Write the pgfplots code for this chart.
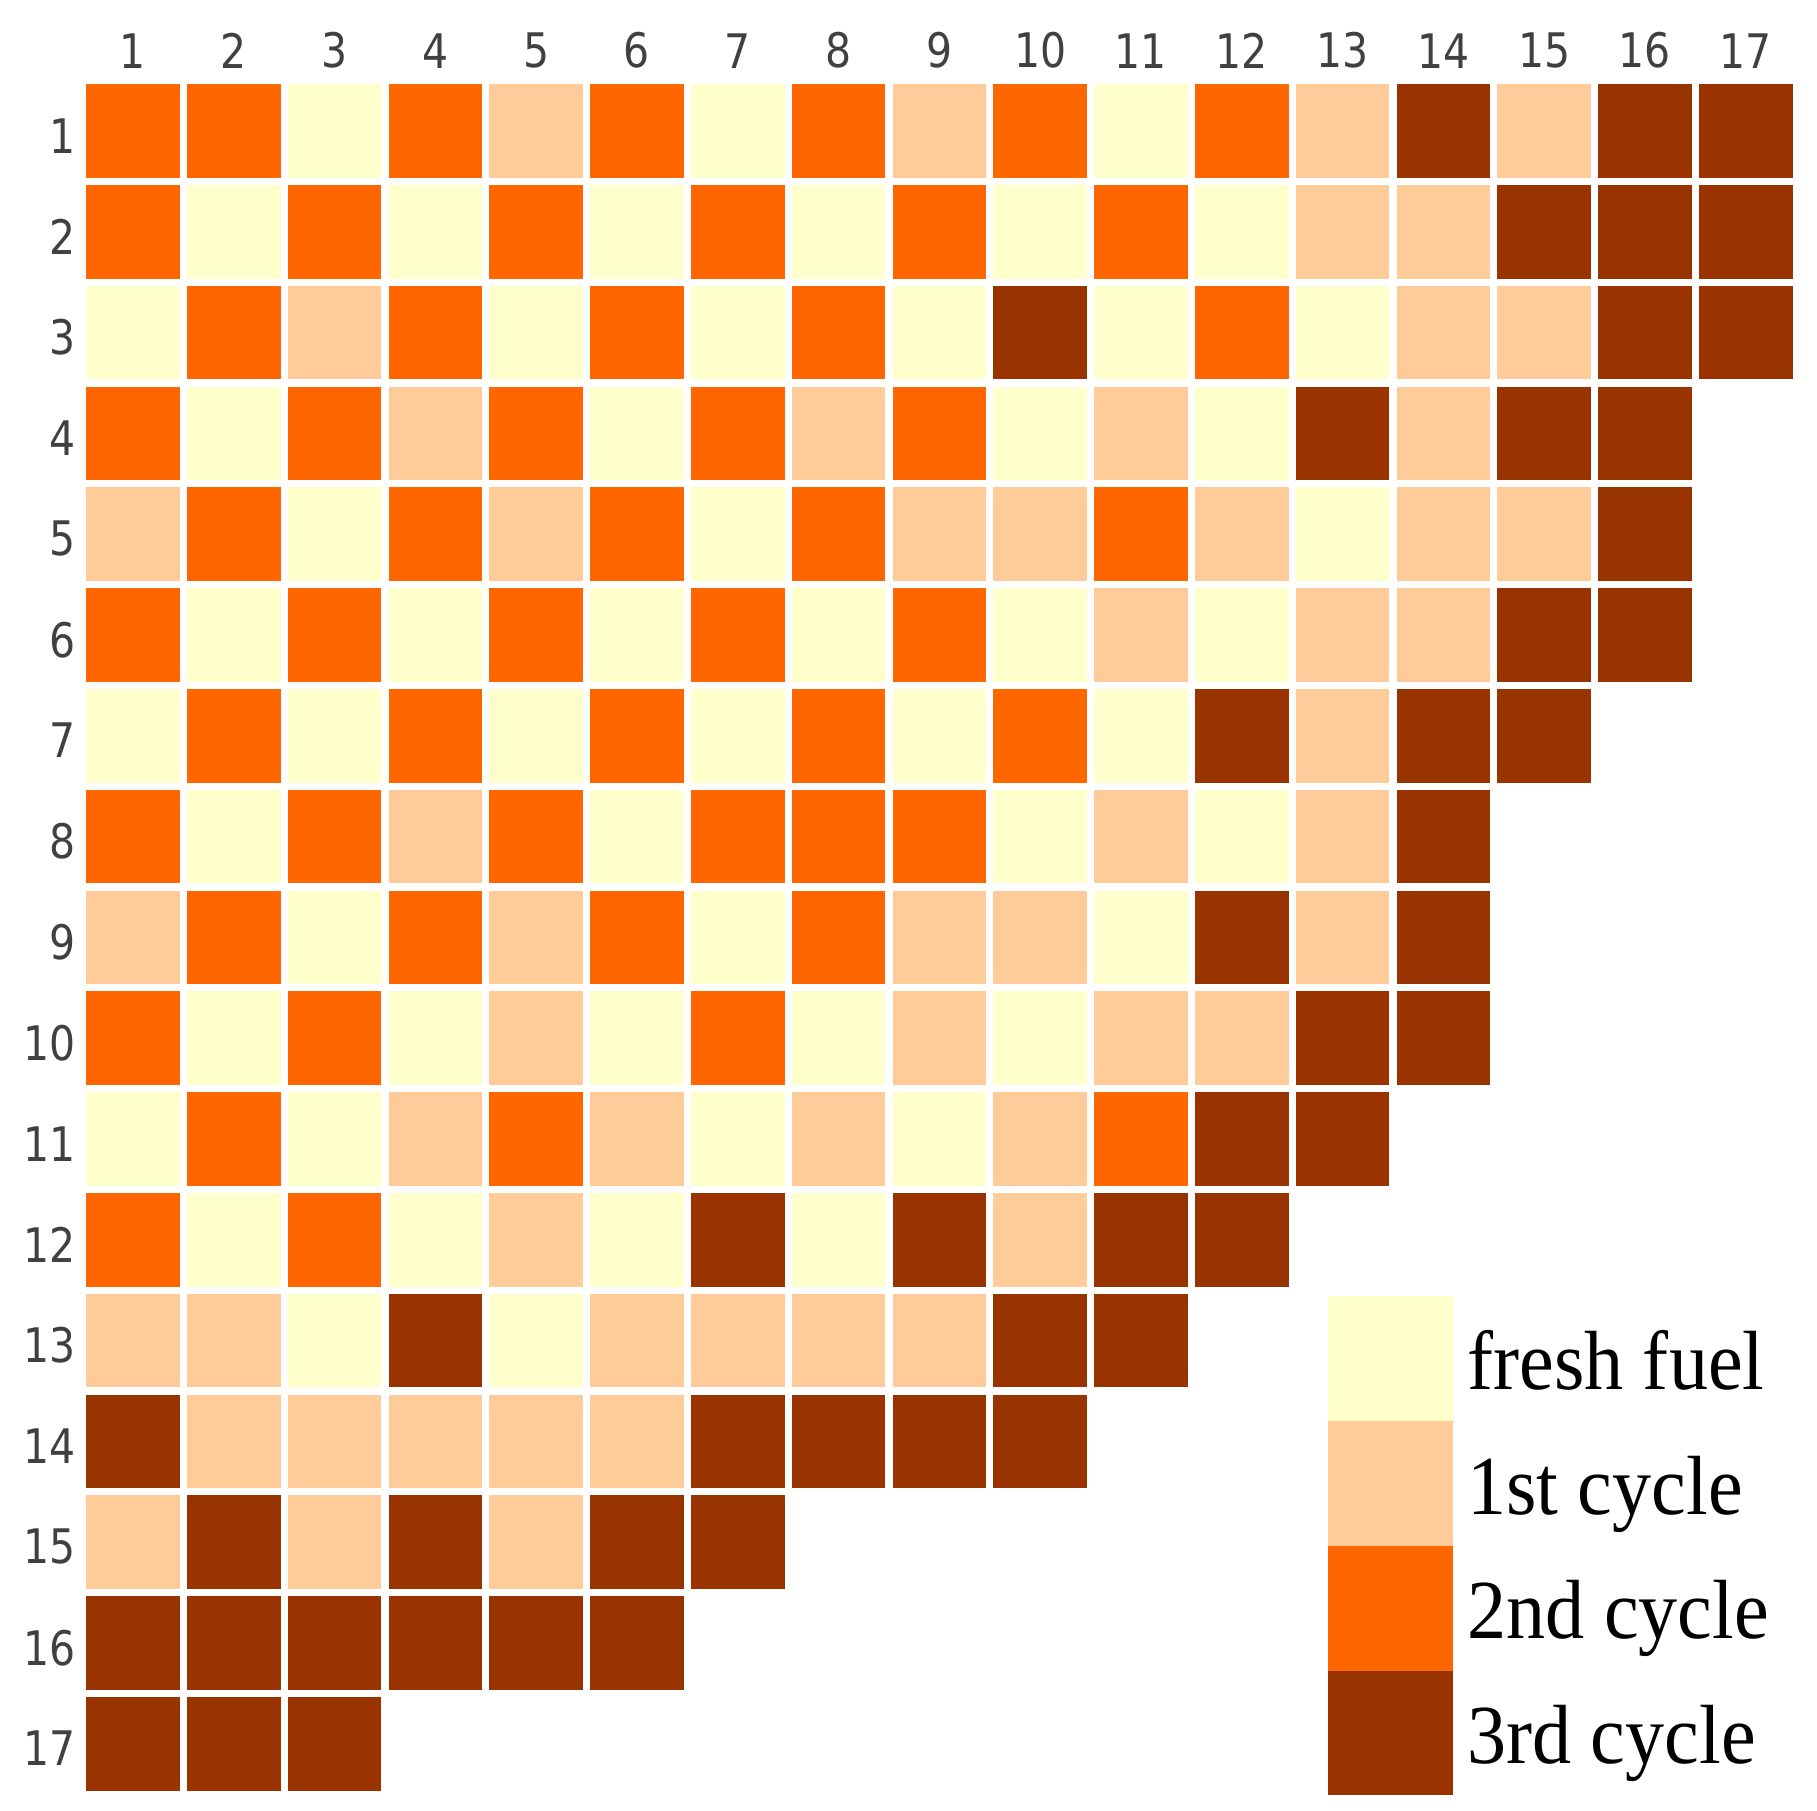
\documentclass[border=0pt]{standalone}
\usepackage{fontspec}
\usepackage{pgfplots}
\pgfplotsset{compat=1.18}
\newfontfamily\tickfont[FakeStretch=0.86]{DejaVu Sans}
\newfontfamily\legfont[FakeStretch=0.93]{Liberation Serif}
\definecolor{cF}{HTML}{FFFFCC}
\definecolor{cA}{HTML}{FFCC99}
\definecolor{cB}{HTML}{FF6600}
\definecolor{cC}{HTML}{993300}
\definecolor{tickc}{HTML}{404040}
\begin{document}
\begin{tikzpicture}
\useasboundingbox (0,0) rectangle (454.25pt,452.5pt);
\begin{axis}[
  at={(20.625pt,432.375pt)}, anchor=north west,
  scale only axis, width=428.4pt, height=428.4pt,
  xmin=0.5, xmax=17.5, ymin=0.5, ymax=17.5,
  y dir=reverse, clip=false,
  axis line style={draw=none}, tick style={draw=none}, major tick length=0pt,
  xtick={1,...,17}, ytick={1,...,17},
  xticklabel pos=upper,
  /pgf/number format/assume math mode=true,
  ticklabel style={font=\tickfont\fontsize{11.9}{12}\selectfont, text=tickc},
  xticklabel style={anchor=south, inner sep=0pt, yshift=2.9pt},
  yticklabel style={anchor=east, inner sep=0pt, xshift=-1.5pt, yshift=-1.2pt},
  legend cell align=left,
  legend style={at={(axis cs:12.853,12.56)}, anchor=north west, draw=none, fill=none,
    inner sep=0pt, outer sep=0pt, row sep=0pt, column sep=3.5pt,
    font=\legfont\fontsize{21}{21}\selectfont,
    nodes={inner sep=0pt, outer sep=0pt},
    cells={anchor=base west}},
  every axis plot/.append style={only marks, mark=square*, mark size=11.5pt, line width=0.4pt},
]
\addplot[color=cF,
  legend image code/.code={\fill[cF] (0pt,-7.7pt) rectangle (31pt,23.1pt);}]
table {
x y
3 1
7 1
11 1
2 2
4 2
6 2
8 2
10 2
12 2
1 3
5 3
7 3
9 3
11 3
13 3
2 4
6 4
10 4
12 4
3 5
7 5
13 5
2 6
4 6
6 6
8 6
10 6
12 6
1 7
3 7
5 7
7 7
9 7
11 7
2 8
6 8
10 8
12 8
3 9
7 9
11 9
2 10
4 10
6 10
8 10
10 10
1 11
3 11
7 11
9 11
2 12
4 12
6 12
8 12
3 13
5 13
};
\addlegendentry{fresh fuel}
\addplot[color=cA,
  legend image code/.code={\fill[cA] (0pt,-7.7pt) rectangle (31pt,23.1pt);}]
table {
x y
5 1
9 1
13 1
15 1
13 2
14 2
3 3
14 3
15 3
4 4
8 4
11 4
14 4
1 5
5 5
9 5
10 5
12 5
14 5
15 5
11 6
13 6
14 6
13 7
4 8
11 8
13 8
1 9
5 9
9 9
10 9
13 9
5 10
9 10
11 10
12 10
4 11
6 11
8 11
10 11
5 12
10 12
1 13
2 13
6 13
7 13
8 13
9 13
2 14
3 14
4 14
5 14
6 14
1 15
3 15
5 15
};
\addlegendentry{1st cycle}
\addplot[color=cB,
  legend image code/.code={\fill[cB] (0pt,-7.7pt) rectangle (31pt,23.1pt);}]
table {
x y
1 1
2 1
4 1
6 1
8 1
10 1
12 1
1 2
3 2
5 2
7 2
9 2
11 2
2 3
4 3
6 3
8 3
12 3
1 4
3 4
5 4
7 4
9 4
2 5
4 5
6 5
8 5
11 5
1 6
3 6
5 6
7 6
9 6
2 7
4 7
6 7
8 7
10 7
1 8
3 8
5 8
7 8
8 8
9 8
2 9
4 9
6 9
8 9
1 10
3 10
7 10
2 11
5 11
11 11
1 12
3 12
};
\addlegendentry{2nd cycle}
\addplot[color=cC,
  legend image code/.code={\fill[cC] (0pt,-7.7pt) rectangle (31pt,23.1pt);}]
table {
x y
14 1
16 1
17 1
15 2
16 2
17 2
10 3
16 3
17 3
13 4
15 4
16 4
16 5
15 6
16 6
12 7
14 7
15 7
14 8
12 9
14 9
13 10
14 10
12 11
13 11
7 12
9 12
11 12
12 12
4 13
10 13
11 13
1 14
7 14
8 14
9 14
10 14
2 15
4 15
6 15
7 15
1 16
2 16
3 16
4 16
5 16
6 16
1 17
2 17
3 17
};
\addlegendentry{3rd cycle}
\end{axis}
\end{tikzpicture}
\end{document}
